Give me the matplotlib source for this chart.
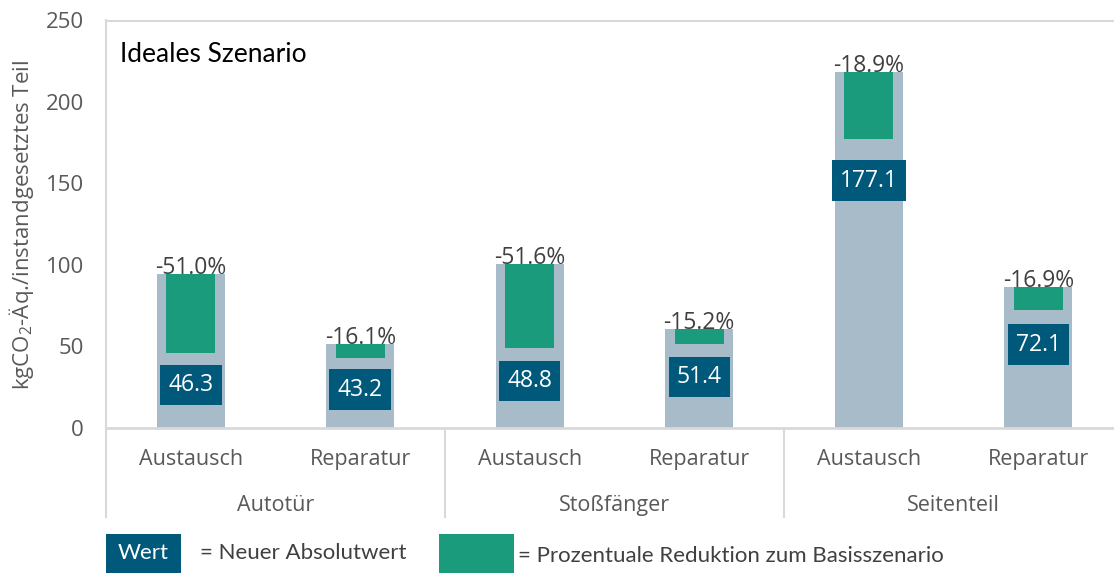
import matplotlib
matplotlib.use("Agg")
import matplotlib.pyplot as plt
from matplotlib.patches import Rectangle
import matplotlib.transforms as mtransforms

# ---- data ----
groups = ["Autotür", "Stoßfänger", "Seitenteil"]
cases = ["Austausch", "Reparatur", "Austausch", "Reparatur", "Austausch", "Reparatur"]
base_values = [94.5, 51.5, 100.8, 60.6, 218.4, 86.8]      # Basisszenario (grey bar)
new_values = [46.3, 43.2, 48.8, 51.4, 177.1, 72.1]        # Neuer Absolutwert
pct_labels = ["-51.0%", "-16.1%", "-51.6%", "-15.2%", "-18.9%", "-16.9%"]
yticks = [0, 50, 100, 150, 200, 250]

# ---- style ----
GREY = "#A7BBC8"
GREEN = "#1A9B7C"
BLUE = "#00587A"
LINE = "#D9D9D9"
TXT = "#595959"
TXT2 = "#404040"

plt.rcParams["font.family"] = ["Open Sans", "DejaVu Sans"]
plt.rcParams["mathtext.fontset"] = "custom"
plt.rcParams["mathtext.rm"] = "Open Sans"
plt.rcParams["mathtext.default"] = "regular"

W, H = 1114, 573
fig = plt.figure(figsize=(W / 100, H / 100), dpi=100)
ax_left, ax_right_px, ax_top, ax_bottom = 106, 1123, 20.5, 428
ax = fig.add_axes([ax_left / W, 1 - ax_bottom / H, (ax_right_px - ax_left) / W, (ax_bottom - ax_top) / H])

x = list(range(len(cases)))
ax.bar(x, base_values, width=0.40, color=GREY, zorder=2)
ax.bar(x, [b - n for b, n in zip(base_values, new_values)], bottom=new_values,
       width=0.29, color=GREEN, zorder=3)

ax.set_xlim(-0.5, 5.5)
ax.set_ylim(0, 250)
ax.set_yticks(yticks)
ax.set_yticklabels([str(t) for t in yticks])
ax.tick_params(axis="y", length=0, pad=16, labelsize=16, labelcolor=TXT)
ax.set_xticks(x)
ax.set_xticklabels(cases)
ax.tick_params(axis="x", length=0, pad=15, labelsize=15.5, labelcolor=TXT)

for s in ["top", "left", "right"]:
    ax.spines[s].set_color(LINE)
    ax.spines[s].set_linewidth(1.5)
ax.spines["bottom"].set_color(LINE)
ax.spines["bottom"].set_linewidth(2.0)

# percent labels
for xi, b, p in zip(x, base_values, pct_labels):
    ax.text(xi, b, p, ha="center", va="baseline", fontsize=16.5, color=TXT2, zorder=5)

# value boxes
for xi, n in zip(x, new_values):
    off_px = 29 + 0.07 * n
    ax.annotate(f"{n:.1f}", xy=(xi, n), xytext=(0, -off_px * 0.72), textcoords="offset points",
                ha="center", va="center", fontsize=16.5, color="white", zorder=6,
                bbox=dict(boxstyle="square,pad=0.36", fc=BLUE, ec="none"))

# group labels and separators
trans = mtransforms.blended_transform_factory(ax.transData, ax.transAxes)
for gi, g in enumerate(groups):
    ax.text(2 * gi + 0.5, -0.19, g, transform=trans, ha="center", va="center",
            fontsize=15.5, color=TXT)
sep_bottom = (ax_bottom - 517) / (ax_bottom - ax_top)
for sx in [-0.5, 1.5, 3.5]:
    ax.plot([sx, sx], [0, sep_bottom], transform=trans, color=LINE, lw=1.5, clip_on=False)

# title
ax.text(120 / W, 1 - 55 / H, "Ideales Szenario", transform=fig.transFigure,
        fontsize=19, color="black", family=["Lato", "DejaVu Sans"], ha="left", va="center")

# y label
fig.text(22 / W, 1 - 224.5 / H, "kgCO$_2$-Äq./instandgesetztes Teil", rotation=90,
         ha="center", va="center", fontsize=16, color=TXT)

# legend
fig.patches.append(Rectangle((106 / W, 0), 75 / W, 39 / H, transform=fig.transFigure,
                             facecolor=BLUE, edgecolor="none"))
fig.text(143.5 / W, 1 - 553 / H, "Wert", ha="center", va="center", fontsize=16,
         color="white", family=["Lato", "DejaVu Sans"])
fig.text(200 / W, 1 - 553 / H, "= Neuer Absolutwert", ha="left", va="center", fontsize=16,
         color=TXT2, family=["Lato", "DejaVu Sans"])
fig.patches.append(Rectangle((439 / W, 0), 75 / W, 39 / H, transform=fig.transFigure,
                             facecolor=GREEN, edgecolor="none"))
fig.text(518 / W, 1 - 556 / H, "= Prozentuale Reduktion zum Basisszenario", ha="left",
         va="center", fontsize=16, color=TXT2, family=["Lato", "DejaVu Sans"])

fig.savefig("out.png", dpi=100)
